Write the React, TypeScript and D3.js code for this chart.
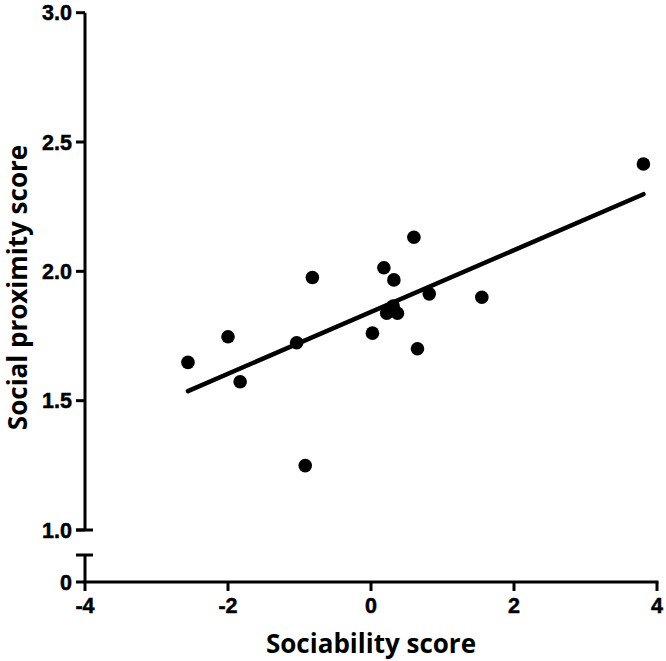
import React from "react";
import * as d3 from "d3";

const sociability = [-2.56, -2.0, -1.83, -1.04, -0.92, -0.82, 0.02, 0.18, 0.22, 0.31, 0.32, 0.37, 0.6, 0.65, 0.815, 1.55, 3.81];
const proximity = [1.648, 1.747, 1.573, 1.724, 1.249, 1.976, 1.761, 2.014, 1.838, 1.866, 1.967, 1.838, 2.132, 1.701, 1.913, 1.9, 2.415];
const fitSlope = 0.1195;
const fitIntercept = 1.843;
const xTicks = [-4, -2, 0, 2, 4];
const yTicks = [1.0, 1.5, 2.0, 2.5, 3.0];
const yLowTicks = [0];
const xTitle = "Sociability score";
const yTitle = "Social proximity score";

export default function App() {
  const W = 666, H = 661;
  const x = d3.scaleLinear().domain([-4, 4]).range([85, 657]);
  const y = d3.scaleLinear().domain([1, 3]).range([530, 12.7]);
  const yLow = d3.scaleLinear().domain([0, 0.1]).range([582, 555]);
  const xMin = d3.min(sociability)!;
  const xMax = d3.max(sociability)!;
  const line = d3.line<number>().x((d) => x(d)).y((d) => y(fitIntercept + fitSlope * d));
  const tickFont = "'Liberation Sans', Arial, sans-serif";
  const titleFont = "'Open Sans', 'Lato', sans-serif";
  const axisX = 85;
  const tickText = { fontFamily: tickFont, fontWeight: "bold" as const, fontSize: 21.5, stroke: "#000", strokeWidth: 0.5 };
  return (
    <svg width={W} height={H} style={{ position: "absolute", left: 0, top: 0, background: "#fff" }}>
      {/* y axis upper segment */}
      <line x1={axisX} x2={axisX} y1={y(3)} y2={y(1)} stroke="#000" strokeWidth={3} />
      <line x1={axisX - 9} x2={axisX + 8} y1={y(1)} y2={y(1)} stroke="#000" strokeWidth={3} />
      {yTicks.map((t) => (
        <g key={t}>
          <line x1={axisX - 9} x2={axisX} y1={y(t)} y2={y(t)} stroke="#000" strokeWidth={3} />
          <text x={axisX - 13} y={y(t)} dy="0.36em" textAnchor="end" {...tickText}>
            {t.toFixed(1)}
          </text>
        </g>
      ))}
      {/* y axis lower segment */}
      <line x1={axisX} x2={axisX} y1={yLow(0.1)} y2={yLow(0)} stroke="#000" strokeWidth={3} />
      <line x1={axisX - 9} x2={axisX + 8} y1={yLow(0.1)} y2={yLow(0.1)} stroke="#000" strokeWidth={3} />
      {yLowTicks.map((t) => (
        <g key={t}>
          <line x1={axisX - 9} x2={axisX} y1={yLow(t)} y2={yLow(t)} stroke="#000" strokeWidth={3} />
          <text x={axisX - 13} y={yLow(t)} dy="0.36em" textAnchor="end" {...tickText}>
            {t}
          </text>
        </g>
      ))}
      {/* x axis */}
      <line x1={x(-4) - 1.5} x2={x(4) + 1.5} y1={yLow(0)} y2={yLow(0)} stroke="#000" strokeWidth={3} />
      {xTicks.map((t) => (
        <g key={t}>
          <line x1={x(t)} x2={x(t)} y1={yLow(0)} y2={yLow(0) + 9} stroke="#000" strokeWidth={3} />
          <text x={x(t)} y={yLow(0) + 31} textAnchor="middle" {...tickText}>
            {t}
          </text>
        </g>
      ))}
      {/* fit line */}
      <path d={line([xMin, xMax]) || ""} stroke="#000" strokeWidth={4.5} fill="none" strokeLinecap="round" />
      {/* points */}
      {sociability.map((sx, i) => (
        <circle key={i} cx={x(sx)} cy={y(proximity[i])} r={6.8} fill="#000" />
      ))}
      {/* titles */}
      <text x={(x(-4) + x(4)) / 2} y={653} textAnchor="middle" fontFamily={titleFont} fontWeight={700} fontSize={26}>
        {xTitle}
      </text>
      <text
        transform={`translate(27, 287.5) rotate(-90)`}
        textAnchor="middle"
        fontFamily={titleFont}
        fontWeight={700}
        fontSize={26}
      >
        {yTitle}
      </text>
    </svg>
  );
}
